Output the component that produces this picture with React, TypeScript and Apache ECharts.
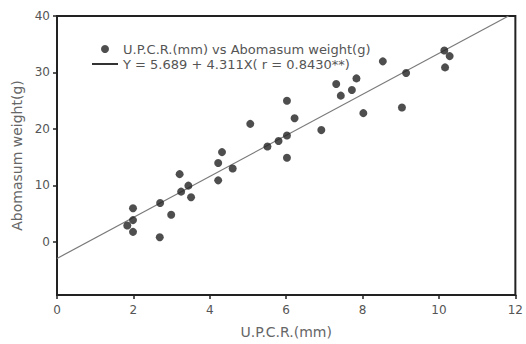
import React, { useEffect, useRef } from "react";
import * as echarts from "echarts";

const scatterName = "U.P.C.R.(mm) vs Abomasum weight(g)";
const lineName = "Y = 5.689 + 4.311X( r = 0.8430**)";

const upcr = [
  1.84, 1.99, 1.99, 1.99, 2.69, 2.7, 2.99, 3.21, 3.25, 3.44, 3.51, 4.22,
  4.22, 4.32, 4.6, 5.06, 5.51, 5.8, 6.02, 6.02, 6.02, 6.22, 6.92, 7.31,
  7.43, 7.72, 7.84, 8.02, 8.53, 9.03, 9.14, 10.14, 10.16, 10.28,
];
const weight = [
  2.9, 5.95, 3.86, 1.78, 0.84, 6.9, 4.8, 12.0, 8.9, 9.96, 7.9, 10.9, 13.97,
  15.9, 13.0, 20.9, 16.9, 17.86, 18.85, 14.9, 25.0, 21.9, 19.8, 27.96, 25.9,
  26.9, 28.95, 22.8, 31.97, 23.8, 29.9, 33.9, 30.9, 32.9,
];
const fitX = [0, 11.82];
const fitY = [-2.93, 40];

const yTicks = [0, 10, 20, 30, 40];
const xMin = 0;
const xMax = 12;
const xInterval = 2;
const yMin = -9.4;
const yMax = 40;

const lineIcon = "path://M0,0L0,0M0,3L26,3L26,5L0,5ZM26,8L26,8";

export default function App() {
  const ref = useRef<HTMLDivElement>(null);
  useEffect(() => {
    if (!ref.current) return;
    document.body.style.margin = "0";
    const chart = echarts.init(ref.current, undefined, { renderer: "svg" });
    const font = "DejaVu Sans";
    chart.setOption({
      animation: false,
      backgroundColor: "#ffffff",
      grid: {
        left: 57,
        right: 9,
        top: 16,
        bottom: 45,
        show: true,
        borderColor: "#222",
        borderWidth: 2,
      },
      legend: {
        orient: "vertical",
        left: 87,
        top: 37,
        itemWidth: 26,
        itemHeight: 8,
        itemGap: 1,
        textStyle: {
          fontFamily: font,
          fontSize: 13,
          color: "#555",
          lineHeight: 14,
        },
        data: [
          { name: scatterName, icon: "circle" },
          { name: lineName, icon: lineIcon, itemStyle: { color: "#333" } },
        ],
      },
      xAxis: {
        type: "value",
        min: xMin,
        max: xMax,
        interval: xInterval,
        name: "U.P.C.R.(mm)",
        nameLocation: "middle",
        nameGap: 30,
        nameTextStyle: { fontFamily: font, fontSize: 14, color: "#666" },
        axisLine: { onZero: false, lineStyle: { color: "#222", width: 2 } },
        axisTick: { length: 4, lineStyle: { color: "#222", width: 1.5 } },
        axisLabel: { fontFamily: font, fontSize: 12, color: "#555", margin: 9 },
        splitLine: { show: false },
      },
      yAxis: {
        type: "value",
        min: yMin,
        max: yMax,
        name: "Abomasum weight(g)",
        nameLocation: "middle",
        nameGap: 33,
        nameTextStyle: { fontFamily: font, fontSize: 14, color: "#666" },
        axisLine: { onZero: false, lineStyle: { color: "#222", width: 2 } },
        axisTick: {
          length: 4,
          lineStyle: { color: "#222", width: 1.5 },
          customValues: yTicks,
        },
        axisLabel: {
          fontFamily: font,
          fontSize: 12,
          color: "#555",
          margin: 7,
          customValues: yTicks,
        },
        splitLine: { show: false },
      },
      series: [
        {
          name: scatterName,
          type: "scatter",
          symbol: "circle",
          symbolSize: 8,
          itemStyle: { color: "#222" },
          data: upcr.map((x, i) => [x, weight[i]]),
          z: 3,
        },
        {
          name: lineName,
          type: "line",
          symbol: "none",
          lineStyle: { color: "#7a7a7a", width: 1.2 },
          itemStyle: { color: "#333" },
          data: fitX.map((x, i) => [x, fitY[i]]),
          z: 2,
        },
      ],
    });
    return () => chart.dispose();
  }, []);
  return <div ref={ref} style={{ width: 526, height: 344 }} />;
}
